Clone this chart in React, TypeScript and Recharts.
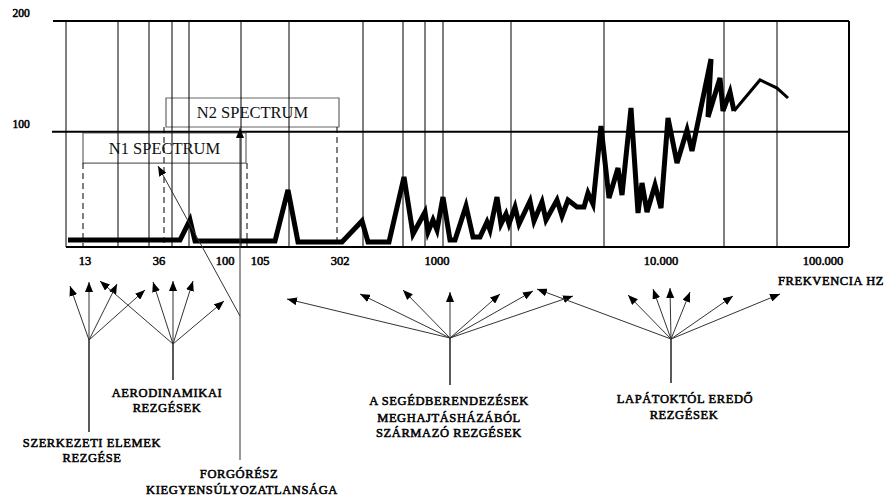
import React from "react";
import {
  LineChart,
  Line,
  XAxis,
  YAxis,
  ReferenceLine,
  ReferenceArea,
} from "recharts";

// horizontal position along the frequency band (the drawing is not to scale)
const tickPos = [19, 93, 159, 194, 274, 371, 595, 757];
const tickLabels = ["13", "36", "100", "105", "302", "1000", "10.000", "100.000"];

const gridX = [0, 52, 83, 106, 123, 175, 223, 297, 337, 359, 377, 445, 538, 658, 711, 783];

// spectrum envelope, thick part
const specX = [
  2, 114, 124, 129, 209, 222, 232, 276, 296, 302, 323, 338, 347, 359, 362, 367, 371, 377,
  384, 389, 400, 407, 414, 421, 424, 431, 435, 440, 443, 449, 453, 464, 468, 476, 480, 491,
  496, 502, 511, 518, 522, 527, 535, 543, 552, 556, 565, 572, 576, 581, 589, 595, 602, 611,
  621, 626, 645, 642, 654, 657, 664, 668,
];
const specY = [
  2.3, 2.3, 20.4, 1.4, 1.4, 47.5, 0.5, 0.5, 19.5, 0.5, 0.5, 59.2, 7.7, 27.6, 9.5, 20.4, 11.3, 41.1,
  2.3, 2.3, 33, 5, 5, 18.6, 11.3, 41.1, 16.8, 25.8, 16.8, 32.1, 16.8, 37.5, 19.5, 36.6, 20.4, 38.4,
  24, 38.4, 32.1, 32.1, 44.7, 34.8, 105.2, 40.2, 67.3, 42.9, 121.5, 26.7, 53.8, 27.6, 52, 31.2, 112.4, 71.8,
  101.6, 82.7, 165.7, 113.4, 148.6, 118.8, 135.9, 118.8,
];
// thinner tail at the top end
const tailX = [668, 694, 711, 722];
const tailY = [118.8, 146.8, 139.5, 130.5];

const spectrum = specX.map((x, i) => ({ x, y: specY[i] }));
const tail = tailX.map((x, i) => ({ x, y: tailY[i] }));

const FONT = "Liberation Serif";
// bold look drawn with a thin outline so the serif face is kept
const BOLD = { fontFamily: FONT, fill: "#000", stroke: "#000", strokeWidth: 0.55 };

// annotation arrows below the chart: [fromX, fromY, toX, toY]
const arrows = [
  [89, 340, 70, 286],
  [89, 340, 89, 282],
  [89, 340, 117, 284],
  [89, 340, 145, 290],
  [173, 344, 100, 281],
  [173, 344, 153, 282],
  [173, 344, 173, 281],
  [173, 344, 193, 281],
  [173, 344, 224, 301],
  [240, 460, 240, 128],
  [240, 316, 158, 166],
  [450, 338, 287, 299],
  [450, 338, 360, 294],
  [450, 338, 403, 290],
  [450, 338, 450, 292],
  [450, 338, 500, 294],
  [450, 338, 533, 291],
  [450, 338, 573, 296],
  [671, 339, 537, 289],
  [671, 339, 628, 295],
  [671, 339, 653, 289],
  [671, 339, 670, 288],
  [671, 339, 690, 292],
  [671, 339, 733, 296],
  [671, 339, 780, 294],
];
const stems = [
  [89, 340, 89, 432],
  [173, 344, 173, 380],
  [450, 338, 450, 385],
  [671, 339, 671, 383],
];
const notes: [string, number, number][] = [
  ["AERODINAMIKAI", 167, 397],
  ["REZGÉSEK", 167, 412],
  ["SZERKEZETI ELEMEK", 92, 447],
  ["REZGÉSE", 92, 462],
  ["FORGÓRÉSZ", 239, 478],
  ["KIEGYENSÚLYOZATLANSÁGA", 242, 494],
  ["A SEGÉDBERENDEZÉSEK", 449, 405],
  ["MEGHAJTÁSHÁZÁBÓL", 449, 422],
  ["SZÁRMAZÓ REZGÉSEK", 449, 437],
  ["LAPÁTOKTÓL EREDŐ", 685, 403],
  ["REZGÉSEK", 684, 419],
];

function XTick({ x, y, payload }: any) {
  const i = tickPos.indexOf(payload.value);
  return (
    <text x={x} y={y + 18} textAnchor="middle" fontSize={12.5} {...BOLD}>
      {tickLabels[i]}
    </text>
  );
}

function YTick({ y, payload }: any) {
  return (
    <text x={21} y={y - 4} textAnchor="middle" fontSize={11.5} {...BOLD}>
      {payload.value}
    </text>
  );
}

export default function App() {
  return (
    <div style={{ position: "absolute", left: 0, top: 0, width: 894, height: 496, background: "#fff" }}>
      <LineChart width={894} height={496} margin={{ top: 21, right: 45, bottom: 219, left: 0 }}>
        <XAxis
          type="number"
          dataKey="x"
          domain={[0, 783]}
          ticks={tickPos}
          tick={<XTick />}
          tickSize={0}
          tickMargin={0}
          height={30}
          axisLine={{ stroke: "#000", strokeWidth: 2 }}
          tickLine={false}
          allowDataOverflow
        />
        <YAxis
          type="number"
          domain={[-4, 200]}
          ticks={[100, 200]}
          tick={<YTick />}
          width={66}
          axisLine={false}
          tickLine={false}
          allowDataOverflow
        />
        {gridX.map((gx) => (
          <ReferenceLine
            key={gx}
            x={gx}
            stroke="#000"
            strokeWidth={gx === 783 ? 2 : 1}
          />
        ))}
        <ReferenceLine
          segment={[{ x: -13, y: 200 }, { x: 783, y: 200 }]}
          stroke="#000"
          strokeWidth={2}
          ifOverflow="visible"
        />
        <ReferenceLine
          segment={[{ x: -14, y: 100 }, { x: 783, y: 100 }]}
          stroke="#000"
          strokeWidth={2}
          ifOverflow="visible"
        />
        <ReferenceLine segment={[{ x: 17, y: 71.8 }, { x: 17, y: -4 }]} stroke="#000" strokeDasharray="6 4" />
        <ReferenceLine segment={[{ x: 181, y: 71.8 }, { x: 181, y: -4 }]} stroke="#000" strokeDasharray="6 4" />
        <ReferenceLine segment={[{ x: 98, y: 104.3 }, { x: 98, y: -4 }]} stroke="#000" strokeDasharray="6 4" />
        <ReferenceLine segment={[{ x: 271, y: 104.3 }, { x: 271, y: -4 }]} stroke="#000" strokeDasharray="6 4" />
        <ReferenceArea
          x1={100}
          x2={273}
          y1={104.3}
          y2={130.5}
          fill="none"
          fillOpacity={0}
          stroke="#666"
          strokeWidth={1.2}
          ifOverflow="visible"
          label={{ value: "N2 SPECTRUM", position: "center", fontSize: 16.5, fontFamily: FONT, fill: "#111" }}
        />
        <ReferenceArea
          x1={17}
          x2={180}
          y1={71.8}
          y2={98.9}
          fill="none"
          fillOpacity={0}
          stroke="#666"
          strokeWidth={1.2}
          ifOverflow="visible"
          label={{ value: "N1 SPECTRUM", position: "center", fontSize: 16.5, fontFamily: FONT, fill: "#111" }}
        />
        <Line
          data={spectrum}
          dataKey="y"
          type="linear"
          stroke="#000"
          strokeWidth={5}
          dot={false}
          activeDot={false}
          isAnimationActive={false}
        />
        <Line
          data={tail}
          dataKey="y"
          type="linear"
          stroke="#000"
          strokeWidth={3}
          dot={false}
          activeDot={false}
          isAnimationActive={false}
        />
      </LineChart>
      <svg
        width={894}
        height={496}
        style={{ position: "absolute", left: 0, top: 0, pointerEvents: "none" }}
      >
        <defs>
          <marker
            id="ah"
            viewBox="0 0 10 8"
            refX="10"
            refY="4"
            markerWidth="10"
            markerHeight="8"
            markerUnits="userSpaceOnUse"
            orient="auto"
          >
            <path d="M0,0 L10,4 L0,8 z" fill="#000" />
          </marker>
        </defs>
        {arrows.map(([x1, y1, x2, y2], i) => (
          <line key={i} x1={x1} y1={y1} x2={x2} y2={y2} stroke="#333" strokeWidth={1} markerEnd="url(#ah)" />
        ))}
        {stems.map(([x1, y1, x2, y2], i) => (
          <line key={i} x1={x1} y1={y1} x2={x2} y2={y2} stroke="#000" strokeWidth={1.3} />
        ))}
        {notes.map(([t, x, y], i) => (
          <text key={i} x={x} y={y} textAnchor="middle" fontSize={12.5} letterSpacing={0.6} {...BOLD}>
            {t}
          </text>
        ))}
        <text x={778} y={285} fontSize={12.5} letterSpacing={0.6} {...BOLD}>
          FREKVENCIA HZ
        </text>
      </svg>
    </div>
  );
}
